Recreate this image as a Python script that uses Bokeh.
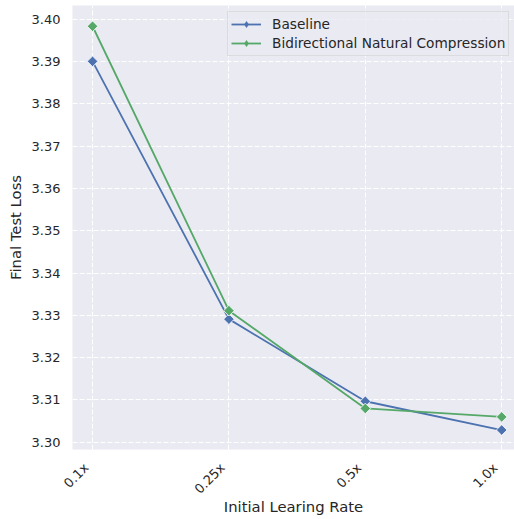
from bokeh.plotting import figure
from bokeh.models import FixedTicker, Range1d, Legend, LegendItem, NumeralTickFormatter
from bokeh.embed import file_html
from bokeh.resources import INLINE
from math import pi

# Learning-rate multipliers and final test loss per run
categories = ["0.1x", "0.25x", "0.5x", "1.0x"]
baseline = [3.3900, 3.3291, 3.3097, 3.3029]
bidirectional = [3.3983, 3.3311, 3.3080, 3.3060]
y_ticks = [3.30, 3.31, 3.32, 3.33, 3.34, 3.35, 3.36, 3.37, 3.38, 3.39, 3.40]

xs = list(range(len(categories)))

BG = "#EAEAF2"
TXT = "#262626"
BLUE = "#4C72B0"
GREEN = "#55A868"
FONT = "DejaVu Sans"

X0, X1 = -0.147, 3.094
LEFT, W = 72, 514
p = figure(width=W, height=519, output_backend="svg", toolbar_location=None,
           x_range=Range1d(X0, X1), y_range=Range1d(3.2983, 3.4032),
           min_border_left=LEFT, min_border_right=0, min_border_top=5, min_border_bottom=70)
p.background_fill_color = BG
p.border_fill_color = "white"
p.outline_line_color = None

# rotated tick labels are right-aligned under each category: place the label
# ticks a few pixels left of the category positions (grid keeps the true ones)
px_per_unit = (W - LEFT) / (X1 - X0)
shift = round(6.3 / px_per_unit, 4)
label_ticks = [x - shift for x in xs]
p.xaxis.ticker = FixedTicker(ticks=label_ticks)
p.xaxis.major_label_overrides = {t: c for t, c in zip(label_ticks, categories)}
p.xaxis.major_label_orientation = pi / 4
p.xgrid.ticker = FixedTicker(ticks=xs)
p.yaxis.ticker = FixedTicker(ticks=y_ticks)
p.yaxis.formatter = NumeralTickFormatter(format="0.00")

p.xaxis.axis_label = "Initial Learing Rate"
p.yaxis.axis_label = "Final Test Loss"
for ax in (p.xaxis[0], p.yaxis[0]):
    ax.axis_line_color = None
    ax.major_tick_line_color = None
    ax.minor_tick_line_color = None
    ax.major_label_text_font = FONT
    ax.major_label_text_font_size = "13px"
    ax.major_label_text_color = TXT
    ax.axis_label_text_font = FONT
    ax.axis_label_text_font_size = "14.8px"
    ax.axis_label_text_font_style = "normal"
    ax.axis_label_text_color = TXT
p.yaxis.major_label_standoff = 6
p.yaxis.axis_label_standoff = 5
p.xaxis.major_label_standoff = 10
p.xaxis.axis_label_standoff = -7

p.grid.grid_line_color = "white"
p.grid.grid_line_dash = "5 2"
p.grid.grid_line_width = 1

items = []
for vals, col, name in [(baseline, BLUE, "Baseline"),
                        (bidirectional, GREEN, "Bidirectional Natural Compression")]:
    ln = p.line(xs, vals, line_color=col, line_width=1.8)
    # diamond used for the legend key, sitting under the rotated squares
    key = p.scatter(xs, vals, marker="diamond", size=10, fill_color=col, line_color=None)
    p.scatter(xs, vals, marker="square", angle=pi / 4, size=7.5, fill_color=col,
              line_color="white", line_width=0.8)
    items.append(LegendItem(label=name, renderers=[ln, key]))

legend = Legend(items=items, location=(155, 393))
legend.background_fill_color = BG
legend.background_fill_alpha = 0.8
legend.border_line_color = "#CCCCCC"
legend.border_line_width = 1
legend.label_text_font = FONT
legend.label_text_font_size = "13.7px"
legend.label_text_color = TXT
legend.glyph_width = 30
legend.glyph_height = 18
legend.label_standoff = 11
legend.padding = 3
legend.spacing = 1
legend.margin = 0
p.add_layout(legend, "center")

open("out.html", "w").write(file_html(p, INLINE))
